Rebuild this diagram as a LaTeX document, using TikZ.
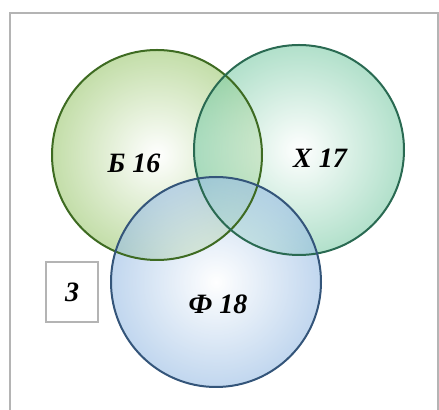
\documentclass[tikz,border=0pt]{standalone}
\usepackage{fontspec}
\setmainfont{Liberation Serif}
\usetikzlibrary{positioning}

\definecolor{bioline}{HTML}{3E6B22}
\definecolor{bioedge}{HTML}{9CC870}
\definecolor{chemline}{HTML}{2A6A52}
\definecolor{chemedge}{HTML}{7ECCA8}
\definecolor{physline}{HTML}{34557A}
\definecolor{physedge}{HTML}{98BCE4}
\definecolor{framegray}{HTML}{B4B4B4}

\tikzset{
  bubble/.style={circle, minimum size=105pt, shading=radial, inner color=white,
    outer color=#1, fill opacity=0.6},
  rim/.style={draw=#1, line width=1pt},
  setlabel/.style={font=\bfseries\itshape\fontsize{14}{16}\selectfont},
  countbox/.style={draw=framegray, line width=0.6pt, minimum width=26pt,
    minimum height=30pt, font=\bfseries\itshape\fontsize{14}{16}\selectfont}
}

\begin{document}
\begin{tikzpicture}[x=0.5pt,y=-0.5pt]
            \useasboundingbox (0,0) rectangle (439,410);
            \fill[white] (0,0) rectangle (439,410);
            \draw[framegray, line width=0.9pt] (10,420) -- (10,13) -- (438,13) -- (438,420);
            % three sets: fills first, rims on top
            \node[bubble=bioedge] (bio) at (157,155) {};
            \node[bubble=chemedge] (chem) at (299,150) {};
            \node[bubble=physedge] (phys) at (216,282) {};
            \draw[rim=bioline] (bio.center) circle [radius=52.5pt];
            \draw[rim=chemline] (chem.center) circle [radius=52.5pt];
            \draw[rim=physline] (phys.center) circle [radius=52.5pt];
            \node[setlabel] (biotext) at (134,163) {Б 16};
            \node[setlabel] (chemtext) at (320,158) {Х 17};
            \node[setlabel] (phystext) at (218,304) {Ф 18};
            \node[countbox] (none) at (72,292) {3};
        \end{tikzpicture}
\end{document}
